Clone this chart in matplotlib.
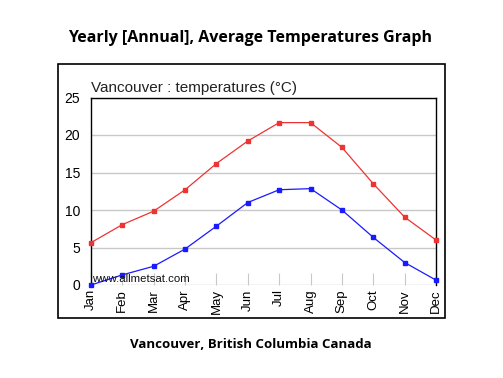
import matplotlib.pyplot as plt
from matplotlib.patches import Rectangle

months = ["Jan", "Feb", "Mar", "Apr", "May", "Jun",
          "Jul", "Aug", "Sep", "Oct", "Nov", "Dec"]
temp_max = [5.65, 8.05, 9.85, 12.7, 16.2, 19.2, 21.65, 21.65, 18.35, 13.5, 9.05, 6.0]
temp_min = [0.0, 1.35, 2.5, 4.8, 7.85, 11.0, 12.7, 12.85, 10.0, 6.35, 3.0, 0.65]
y_ticks = [0, 5, 10, 15, 20, 25]


def main():
    fig = plt.figure(figsize=(5.03, 3.78), dpi=100)

    # frame around the chart
    fig.patches.append(Rectangle((58 / 503, 1 - 318 / 378), 387 / 503, 254 / 378,
                                 transform=fig.transFigure, fill=False,
                                 edgecolor="black", linewidth=1.2))

    fig.text(0.497, 1 - 38 / 378, "Yearly [Annual], Average Temperatures Graph",
             ha="center", va="center", fontsize=11.5, fontweight="bold",
             family="Open Sans")
    fig.text(0.499, 1 - 345 / 378, "Vancouver, British Columbia Canada",
             ha="center", va="center", fontsize=9.5, fontweight="bold",
             family="Open Sans")

    ax = fig.add_axes([91 / 503, 1 - 285 / 378, 345 / 503, 187.5 / 378])
    x = range(len(months))
    ax.plot(x, temp_max, color="#ee3333", linewidth=0.9, marker="s",
            markersize=3, clip_on=False, zorder=3)
    ax.plot(x, temp_min, color="#1a1aff", linewidth=0.9, marker="s",
            markersize=3, clip_on=False, zorder=3)

    ax.set_xlim(0, 11)
    ax.set_ylim(0, 25)
    ax.set_yticks(y_ticks)
    ax.set_xticks(list(x))
    ax.set_xticklabels(months, rotation=90, family="Liberation Sans", fontsize=9.5)
    ax.set_yticklabels([str(v) for v in y_ticks], family="Liberation Sans", fontsize=10)
    ax.tick_params(axis="y", length=0, pad=8)
    ax.tick_params(axis="x", direction="in", length=9, color="#c8c8c8", pad=3)
    ax.grid(axis="y", color="#c8c8c8", linewidth=1)
    ax.set_axisbelow(True)
    ax.spines["bottom"].set_visible(False)
    for side in ("left", "top", "right"):
        ax.spines[side].set_linewidth(1)

    ax.text(0, 1.012, "Vancouver : temperatures (\u00b0C)", transform=ax.transAxes,
            ha="left", va="bottom", fontsize=11, family="Liberation Sans",
            color="#222222")
    ax.text(0.003, 0.008, "www.allmetsat.com", transform=ax.transAxes,
            ha="left", va="bottom", fontsize=8.2, family="Liberation Sans",
            color="#111111", zorder=4)

    fig.savefig("out.png", dpi=100)


if __name__ == "__main__":
    main()
